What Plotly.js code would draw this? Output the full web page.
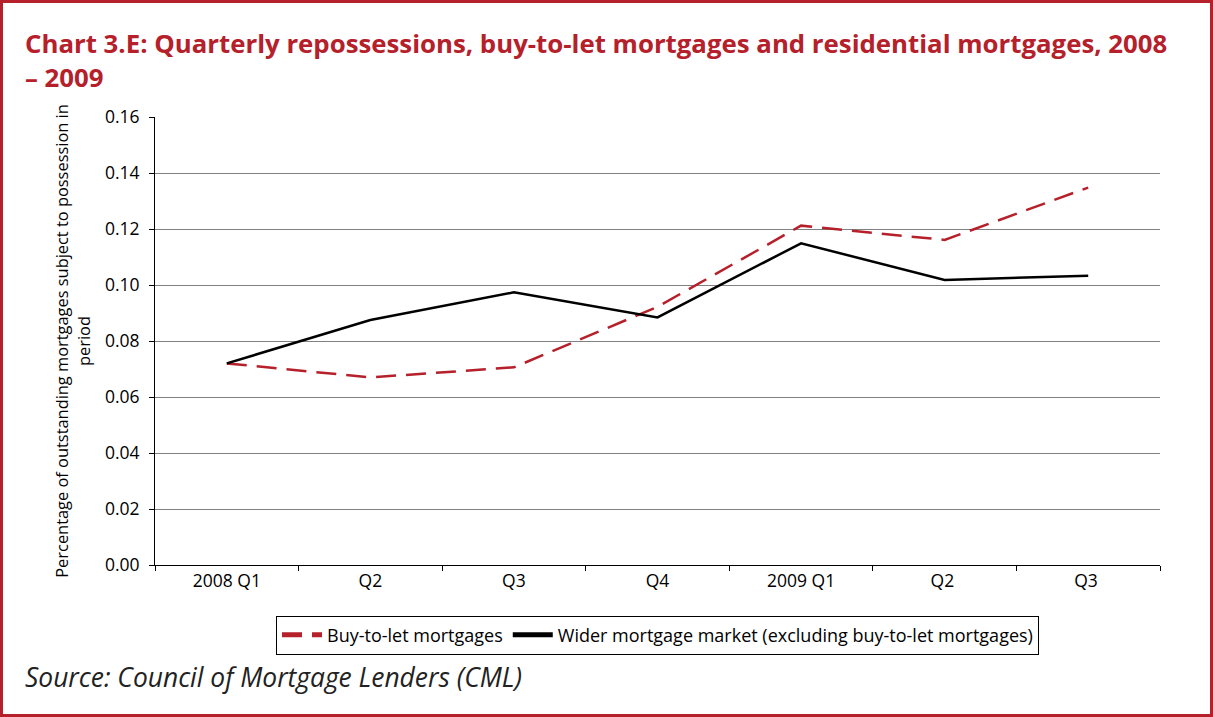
<!DOCTYPE html>
<html><head><meta charset="utf-8">
<script src="https://cdn.plot.ly/plotly-3.0.1.min.js"></script>
<style>
html,body{margin:0;padding:0;background:#fff;}
#frame{position:relative;width:1213px;height:717px;box-sizing:border-box;border:3px solid #b5202a;overflow:hidden;}
#chart{position:absolute;left:-3px;top:-3px;width:1213px;height:717px;}
</style></head>
<body><div id="frame"><div id="chart"></div></div>
<script>
const categories = ["2008 Q1","Q2","Q3","Q4","2009 Q1","Q2 ","Q3 "];
const buyToLet = [0.0720, 0.0670, 0.0706, 0.0922, 0.1212, 0.1161, 0.1348];
const widerMarket = [0.0720, 0.0875, 0.0974, 0.0884, 0.1149, 0.1018, 0.1033];
const yTicks = [0,0.02,0.04,0.06,0.08,0.10,0.12,0.14,0.16];
const red = "#b5202a";
const font = "Open Sans, Noto Sans, sans-serif";

const traces = [
  {x: categories, y: buyToLet, type: "scatter", mode: "lines", name: "Buy-to-let mortgages",
   line: {color: red, width: 2.5, dash: "20px,10px"}},
  {x: categories, y: widerMarket, type: "scatter", mode: "lines", name: "Wider mortgage market (excluding buy-to-let mortgages)",
   line: {color: "#000", width: 2.5}}
];

const layout = {
  width: 1213, height: 717,
  margin: {l: 155, r: 53, t: 117, b: 152},
  paper_bgcolor: "#fff", plot_bgcolor: "#fff",
  font: {family: font, color: "#000", size: 16},
  showlegend: true,
  legend: {orientation: "h", x: 0.5, xanchor: "center", y: -0.113, yanchor: "top",
    bordercolor: "#000", borderwidth: 1, font: {size: 18}, itemwidth: 40, traceorder: "normal",
    tracegroupgap: 0, itemsizing: "constant"},
  xaxis: {type: "category", tickson: "boundaries", ticks: "outside", ticklen: 5, tickcolor: "#000",
    showline: true, linecolor: "#000", linewidth: 1, showgrid: false, range: [-0.5, 6.5],
    tickfont: {size: 17.5}, zeroline: false},
  yaxis: {range: [0, 0.16], tickvals: yTicks, ticktext: yTicks.map(v => v.toFixed(2)),
    ticks: "outside", ticklen: 5, tickcolor: "#000", showline: true, linecolor: "#000", linewidth: 1,
    showgrid: true, gridcolor: "#808080", gridwidth: 1, zeroline: false, tickfont: {size: 17.5},
    ticklabelstandoff: 6,
    title: {text: "Percentage of outstanding mortgages subject to possession in<br>period", font: {size: 16.4}, standoff: 10}},
  annotations: [
    {xref: "paper", yref: "paper", x: -0.131, y: 1.21, xanchor: "left", yanchor: "top", align: "left",
     showarrow: false, text: "<b>Chart 3.E: Quarterly repossessions, buy-to-let mortgages and residential mortgages, 2008<br>– 2009</b>",
     font: {size: 25.8, color: red, family: font}},
    {xref: "paper", yref: "paper", x: -0.131, y: -0.25, xanchor: "left", yanchor: "middle",
     showarrow: false, text: "<i>Source: Council of Mortgage Lenders (CML)</i>",
     font: {size: 26.4, color: "#222", family: font}}
  ]
};
Plotly.newPlot("chart", traces, layout, {displayModeBar: false, staticPlot: true});
</script></body></html>
